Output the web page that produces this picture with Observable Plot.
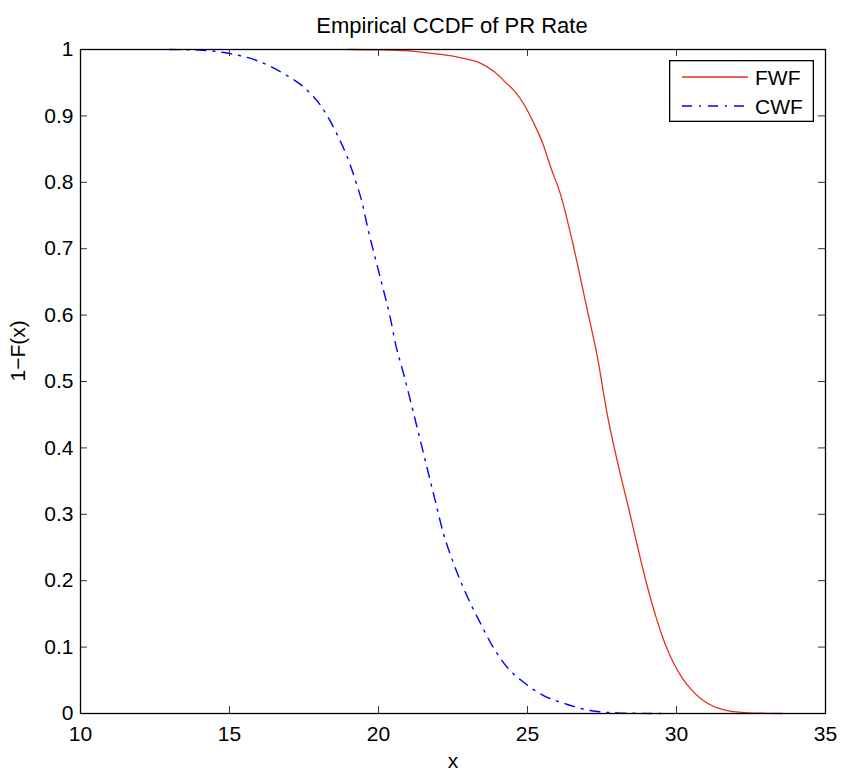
<!DOCTYPE html>
<html>
<head>
<meta charset="utf-8">
<script src="https://cdn.jsdelivr.net/npm/d3@7"></script>
<script src="https://cdn.jsdelivr.net/npm/@observablehq/plot@0.6"></script>
<style>
  html, body { margin: 0; padding: 0; background: #fff; }
  #wrap { position: relative; width: 841px; height: 770px; font-family: "Liberation Sans", Arial, Helvetica, sans-serif; }
  #title { height: 30px; box-sizing: border-box; padding-top: 15px; font-size: 22px; line-height: 21px; text-align: center; width: 841px; padding-left: 63px; color: #000; white-space: nowrap; }
  #chart svg { overflow: visible; }
  #legend { position: absolute; left: 669px; top: 60px; }
</style>
</head>
<body>
<div id="wrap">
  <div id="title">Empirical CCDF of PR Rate</div>
  <div id="chart"></div>
  <div id="legend"></div>
</div>
<script>
const titleText = "Empirical CCDF of PR Rate";
const xLabel = "x";
const yLabel = "1\u2212F(x)";
const seriesNames = ["FWF", "CWF"];
const seriesColors = ["#e0321a", "#0000ff"];

const xTicks = [10, 15, 20, 25, 30, 35];
const yTicks = [0, 0.1, 0.2, 0.3, 0.4, 0.5, 0.6, 0.7, 0.8, 0.9, 1];

const fwfX = [19.0, 20.0, 21.0, 21.7, 22.5, 23.0, 23.4, 23.9, 24.3, 24.55, 24.9, 25.2, 25.5, 25.8, 26.1, 26.5, 27.0, 27.35, 27.67, 28.06, 28.4, 28.7, 29.0, 29.3, 29.6, 29.9, 30.2, 30.5, 30.8, 31.1, 31.4, 31.7, 32.0, 32.4, 33.0, 33.55];
const fwfY = [1.0, 0.9995, 0.998, 0.9945, 0.99, 0.985, 0.98, 0.966, 0.949, 0.938, 0.916, 0.89, 0.86, 0.82, 0.783, 0.712, 0.609, 0.536, 0.452, 0.371, 0.308, 0.25, 0.195, 0.147, 0.107, 0.076, 0.053, 0.036, 0.023, 0.014, 0.008, 0.0045, 0.0025, 0.001, 0.0003, 0];

const cwfX = [13.0, 14.0, 15.0, 16.0, 16.8, 17.5, 18.1, 18.6, 18.96, 19.26, 19.43, 19.66, 19.93, 20.17, 20.4, 20.57, 20.84, 21.3, 21.9, 22.18, 22.52, 22.99, 23.42, 23.86, 24.33, 24.87, 25.54, 26.34, 27.1, 28.0, 28.8, 29.5];
const cwfY = [1.0, 0.999, 0.994, 0.982, 0.964, 0.943, 0.913, 0.873, 0.837, 0.798, 0.773, 0.727, 0.679, 0.637, 0.595, 0.557, 0.512, 0.43, 0.321, 0.271, 0.226, 0.175, 0.136, 0.099, 0.069, 0.047, 0.027, 0.0136, 0.0045, 0.001, 0.0002, 0];

const fwf = fwfX.map((x, i) => ({x, y: fwfY[i]}));
const cwf = cwfX.map((x, i) => ({x, y: cwfY[i]}));

document.getElementById("title").textContent = titleText;

const dashDot = "10,7,2,7";
const FONT = "\"Liberation Sans\", Arial, Helvetica, sans-serif";
const tickLen = 7;
const frameH = 664, frameW = 745;

const chart = Plot.plot({
  width: 841,
  height: 740,
  marginLeft: 80,
  marginRight: 16,
  marginTop: 19,
  marginBottom: 57,
  style: {fontFamily: FONT, fontSize: "21px", color: "#000", background: "transparent", overflow: "visible"},
  x: {domain: [10, 35], label: null},
  y: {domain: [0, 1], label: null},
  marks: [
    Plot.axisX({ticks: xTicks, tickSize: 0, tickPadding: 13, fontSize: 21, tickFormat: d => String(d), label: null}),
    Plot.axisY({ticks: yTicks, tickSize: 0, tickPadding: 7, fontSize: 21, tickFormat: d => String(d), label: null}),
    Plot.line(fwf, {x: "x", y: "y", stroke: seriesColors[0], strokeWidth: 1.3, curve: "monotone-x"}),
    Plot.line(cwf, {x: "x", y: "y", stroke: seriesColors[1], strokeWidth: 1.4, strokeDasharray: dashDot, curve: "monotone-x"}),
    // inward tick marks on all four sides
    Plot.ruleX(xTicks, {x: d => d, insetTop: frameH - tickLen, stroke: "#333", strokeWidth: 1}),
    Plot.ruleX(xTicks, {x: d => d, insetBottom: frameH - tickLen, stroke: "#333", strokeWidth: 1}),
    Plot.ruleY(yTicks, {y: d => d, insetRight: frameW - tickLen, stroke: "#333", strokeWidth: 1}),
    Plot.ruleY(yTicks, {y: d => d, insetLeft: frameW - tickLen, stroke: "#333", strokeWidth: 1}),
    Plot.frame({stroke: "#000", strokeWidth: 1.3}),
    Plot.text([xLabel], {text: d => d, frameAnchor: "bottom", dy: 54, lineAnchor: "bottom", fontSize: 21}),
    Plot.text([yLabel], {text: d => d, frameAnchor: "left", dx: -62, rotate: -90, fontSize: 21})
  ]
});
document.getElementById("chart").appendChild(chart);

// Legend
const lw = 145, lh = 62;
const leg = d3.select("#legend").append("svg")
  .attr("width", lw).attr("height", lh)
  .style("font-family", FONT).style("font-size", "21px");
leg.append("rect").attr("x", 0.65).attr("y", 0.65).attr("width", lw - 1.3).attr("height", lh - 1.3)
  .attr("fill", "#fff").attr("stroke", "#000").attr("stroke-width", 1.3);
const rows = [
  {name: seriesNames[0], color: seriesColors[0], dash: null, ly: 17, ty: 25},
  {name: seriesNames[1], color: seriesColors[1], dash: dashDot, ly: 46, ty: 54}
];
rows.forEach(r => {
  const ln = leg.append("line").attr("x1", 13).attr("x2", 79).attr("y1", r.ly).attr("y2", r.ly)
    .attr("stroke", r.color).attr("stroke-width", 1.3);
  if (r.dash) ln.attr("stroke-dasharray", r.dash);
  leg.append("text").attr("x", 86).attr("y", r.ty).attr("fill", "#000").text(r.name);
});
</script>
</body>
</html>
